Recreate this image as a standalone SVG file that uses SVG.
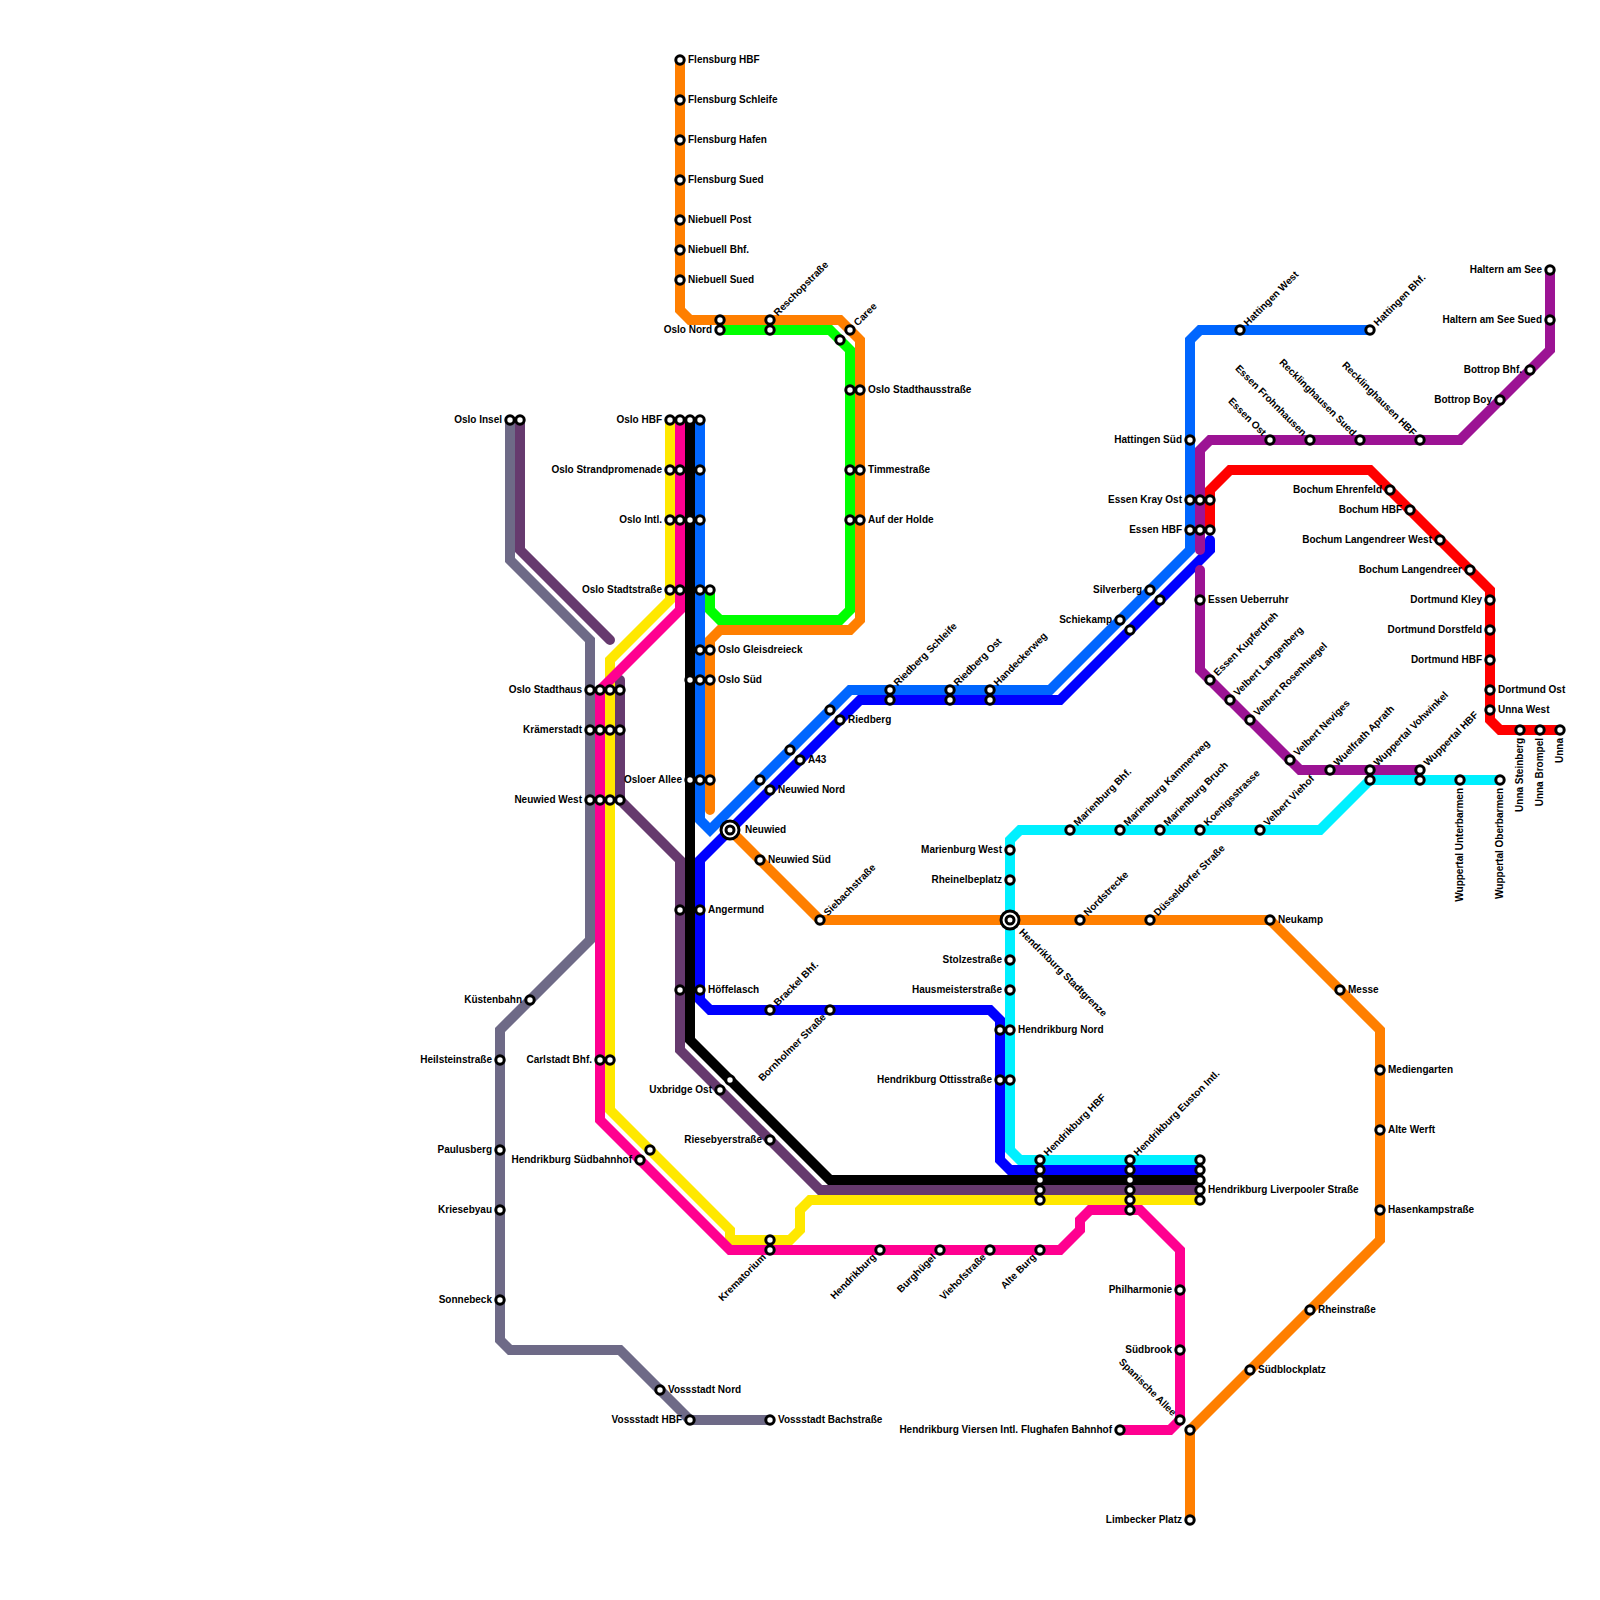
<svg xmlns="http://www.w3.org/2000/svg" width="1600" height="1600" viewBox="0 0 1600 1600">
<style>
text{font:bold 10px "Liberation Sans",Arial,sans-serif;fill:#000}
.e{text-anchor:end}
.s{fill:#fff;stroke:#000;stroke-width:3}
.b{fill:#fff;stroke:#000;stroke-width:3}
polyline{fill:none;stroke-width:10;stroke-linecap:round;stroke-linejoin:miter}
</style>
<rect width="1600" height="1600" fill="#fff"/>
<g id="connectors">
<polyline stroke="#ff7f00" points="680,60 680,310 690,320 840,320 860,340 860,620 850,630 720,630 710,640 710,810"/>
<polyline stroke="#00ff00" points="710,590 710,610 720,620 840,620 850,610 850,350 830,330 720,330"/>
<polyline stroke="#6e6a87" points="510,420 510,560 590,640 590,940 500,1030 500,1340 510,1350 620,1350 690,1420 770,1420"/>
<polyline stroke="#663a6e" points="520,420 520,550 610,640"/>
<polyline stroke="#663a6e" points="620,680 620,800 680,860 680,1050 820,1190 1200,1190"/>
<polyline stroke="#ff7f00" points="730,830 820,920 1270,920 1380,1030 1380,1240 1190,1430 1190,1520"/>
<polyline stroke="#00f0ff" points="1010,850 1010,840 1020,830 1320,830 1370,780 1500,780"/>
<polyline stroke="#00f0ff" points="1010,850 1010,1150 1020,1160 1200,1160"/>
<polyline stroke="#ffe800" points="670,420 670,600 610,660 610,1110 730,1230 730,1240 790,1240 800,1230 800,1210 810,1200 1200,1200"/>
<polyline stroke="#ff0090" points="680,420 680,610 600,690 600,1120 730,1250 1060,1250 1080,1230 1080,1220 1090,1210 1140,1210 1180,1250 1180,1420 1170,1430 1120,1430"/>
<polyline stroke="#000" points="690,420 690,1040 830,1180 1200,1180"/>
<polyline stroke="#0066ff" points="700,420 700,820 710,830 850,690 1050,690 1190,550 1190,340 1200,330 1370,330"/>
<polyline stroke="#0000ff" points="700,990 700,1000 710,1010 990,1010 1000,1020 1000,1160 1010,1170 1200,1170"/>
<polyline stroke="#0000ff" points="700,990 700,860 860,700 1060,700 1210,550 1210,540"/>
<polyline stroke="#ff0000" points="1210,530 1210,490 1230,470 1370,470 1490,590 1490,720 1500,730 1560,730"/>
<polyline stroke="#9c1394" points="1550,270 1550,350 1460,440 1210,440 1200,450 1200,550"/>
<polyline stroke="#9c1394" points="1200,570 1200,670 1300,770 1420,770"/>
</g>
<g id="nodes">
<g id="n-flensburg-hbf"><circle class="s" r="4.2" cx="680" cy="60"/><text x="688" y="63">Flensburg HBF</text></g>
<g id="n-flensburg-schleife"><circle class="s" r="4.2" cx="680" cy="100"/><text x="688" y="103">Flensburg Schleife</text></g>
<g id="n-flensburg-hafen"><circle class="s" r="4.2" cx="680" cy="140"/><text x="688" y="143">Flensburg Hafen</text></g>
<g id="n-flensburg-sued"><circle class="s" r="4.2" cx="680" cy="180"/><text x="688" y="183">Flensburg Sued</text></g>
<g id="n-niebuell-post"><circle class="s" r="4.2" cx="680" cy="220"/><text x="688" y="223">Niebuell Post</text></g>
<g id="n-niebuell-bhf"><circle class="s" r="4.2" cx="680" cy="250"/><text x="688" y="253">Niebuell Bhf.</text></g>
<g id="n-niebuell-sued"><circle class="s" r="4.2" cx="680" cy="280"/><text x="688" y="283">Niebuell Sued</text></g>
<g id="n-oslo-nord"><circle class="s" r="4.2" cx="720" cy="320"/><circle class="s" r="4.2" cx="720" cy="330"/><text class="e" x="712" y="333">Oslo Nord</text></g>
<g id="n-reschopstrasse"><circle class="s" r="4.2" cx="770" cy="320"/><circle class="s" r="4.2" cx="770" cy="330"/><text transform="translate(770 320) rotate(-45)" x="8" y="3">Reschopstraße</text></g>
<g id="n-caree"><circle class="s" r="4.2" cx="840" cy="340"/><circle class="s" r="4.2" cx="850" cy="330"/><text transform="translate(850 330) rotate(-45)" x="8" y="3">Caree</text></g>
<g id="n-oslo-stadthausstrasse"><circle class="s" r="4.2" cx="850" cy="390"/><circle class="s" r="4.2" cx="860" cy="390"/><text x="868" y="393">Oslo Stadthausstraße</text></g>
<g id="n-timmestrasse"><circle class="s" r="4.2" cx="850" cy="470"/><circle class="s" r="4.2" cx="860" cy="470"/><text x="868" y="473">Timmestraße</text></g>
<g id="n-auf-der-holde"><circle class="s" r="4.2" cx="850" cy="520"/><circle class="s" r="4.2" cx="860" cy="520"/><text x="868" y="523">Auf der Holde</text></g>
<g id="n-oslo-insel"><circle class="s" r="4.2" cx="510" cy="420"/><circle class="s" r="4.2" cx="520" cy="420"/><text class="e" x="502" y="423">Oslo Insel</text></g>
<g id="n-oslo-hbf"><circle class="s" r="4.2" cx="670" cy="420"/><circle class="s" r="4.2" cx="680" cy="420"/><circle class="s" r="4.2" cx="690" cy="420"/><circle class="s" r="4.2" cx="700" cy="420"/><text class="e" x="662" y="423">Oslo HBF</text></g>
<g id="n-oslo-strandpromenade"><circle class="s" r="4.2" cx="670" cy="470"/><circle class="s" r="4.2" cx="680" cy="470"/><circle class="s" r="4.2" cx="700" cy="470"/><text class="e" x="662" y="473">Oslo Strandpromenade</text></g>
<g id="n-oslo-intl"><circle class="s" r="4.2" cx="670" cy="520"/><circle class="s" r="4.2" cx="680" cy="520"/><circle class="s" r="4.2" cx="690" cy="520"/><circle class="s" r="4.2" cx="700" cy="520"/><text class="e" x="662" y="523">Oslo Intl.</text></g>
<g id="n-oslo-stadtstrasse"><circle class="s" r="4.2" cx="670" cy="590"/><circle class="s" r="4.2" cx="680" cy="590"/><circle class="s" r="4.2" cx="700" cy="590"/><circle class="s" r="4.2" cx="710" cy="590"/><text class="e" x="662" y="593">Oslo Stadtstraße</text></g>
<g id="n-oslo-gleisdreieck"><circle class="s" r="4.2" cx="700" cy="650"/><circle class="s" r="4.2" cx="710" cy="650"/><text x="718" y="653">Oslo Gleisdreieck</text></g>
<g id="n-oslo-sued"><circle class="s" r="4.2" cx="690" cy="680"/><circle class="s" r="4.2" cx="700" cy="680"/><circle class="s" r="4.2" cx="710" cy="680"/><text x="718" y="683">Oslo Süd</text></g>
<g id="n-osloer-allee"><circle class="s" r="4.2" cx="690" cy="780"/><circle class="s" r="4.2" cx="700" cy="780"/><circle class="s" r="4.2" cx="710" cy="780"/><text class="e" x="682" y="783">Osloer Allee</text></g>
<g id="n-oslo-stadthaus"><circle class="s" r="4.2" cx="590" cy="690"/><circle class="s" r="4.2" cx="600" cy="690"/><circle class="s" r="4.2" cx="610" cy="690"/><circle class="s" r="4.2" cx="620" cy="690"/><text class="e" x="582" y="693">Oslo Stadthaus</text></g>
<g id="n-kraemerstadt"><circle class="s" r="4.2" cx="590" cy="730"/><circle class="s" r="4.2" cx="600" cy="730"/><circle class="s" r="4.2" cx="610" cy="730"/><circle class="s" r="4.2" cx="620" cy="730"/><text class="e" x="582" y="733">Krämerstadt</text></g>
<g id="n-neuwied-west"><circle class="s" r="4.2" cx="590" cy="800"/><circle class="s" r="4.2" cx="600" cy="800"/><circle class="s" r="4.2" cx="610" cy="800"/><circle class="s" r="4.2" cx="620" cy="800"/><text class="e" x="582" y="803">Neuwied West</text></g>
<g id="n-neuwied"><circle class="b" r="9" cx="730" cy="830"/><circle class="b" r="4" cx="730" cy="830"/><text x="745" y="833">Neuwied</text></g>
<g id="n-neuwied-nord"><circle class="s" r="4.2" cx="760" cy="780"/><circle class="s" r="4.2" cx="770" cy="790"/><text x="778" y="793">Neuwied Nord</text></g>
<g id="n-a43"><circle class="s" r="4.2" cx="790" cy="750"/><circle class="s" r="4.2" cx="800" cy="760"/><text x="808" y="763">A43</text></g>
<g id="n-riedberg"><circle class="s" r="4.2" cx="830" cy="710"/><circle class="s" r="4.2" cx="840" cy="720"/><text x="848" y="723">Riedberg</text></g>
<g id="n-neuwied-sued"><circle class="s" r="4.2" cx="760" cy="860"/><text x="768" y="863">Neuwied Süd</text></g>
<g id="n-siebachstrasse"><circle class="s" r="4.2" cx="820" cy="920"/><text transform="translate(820 920) rotate(-45)" x="8" y="3">Siebachstraße</text></g>
<g id="n-riedberg-schleife"><circle class="s" r="4.2" cx="890" cy="690"/><circle class="s" r="4.2" cx="890" cy="700"/><text transform="translate(890 690) rotate(-45)" x="8" y="3">Riedberg Schleife</text></g>
<g id="n-riedberg-ost"><circle class="s" r="4.2" cx="950" cy="690"/><circle class="s" r="4.2" cx="950" cy="700"/><text transform="translate(950 690) rotate(-45)" x="8" y="3">Riedberg Ost</text></g>
<g id="n-handeckerweg"><circle class="s" r="4.2" cx="990" cy="690"/><circle class="s" r="4.2" cx="990" cy="700"/><text transform="translate(990 690) rotate(-45)" x="8" y="3">Handeckerweg</text></g>
<g id="n-angermund"><circle class="s" r="4.2" cx="680" cy="910"/><circle class="s" r="4.2" cx="700" cy="910"/><text x="708" y="913">Angermund</text></g>
<g id="n-hoeffelasch"><circle class="s" r="4.2" cx="680" cy="990"/><circle class="s" r="4.2" cx="700" cy="990"/><text x="708" y="993">Höffelasch</text></g>
<g id="n-brackel-bhf"><circle class="s" r="4.2" cx="770" cy="1010"/><text transform="translate(770 1010) rotate(-45)" x="8" y="3">Brackel Bhf.</text></g>
<g id="n-bornholmer-strasse"><circle class="s" r="4.2" cx="830" cy="1010"/><text class="e" transform="translate(830 1010) rotate(-45)" x="-8" y="3">Bornholmer Straße</text></g>
<g id="n-carlstadt-bhf"><circle class="s" r="4.2" cx="600" cy="1060"/><circle class="s" r="4.2" cx="610" cy="1060"/><text class="e" x="592" y="1063">Carlstadt Bhf.</text></g>
<g id="n-kuestenbahn"><circle class="s" r="4.2" cx="530" cy="1000"/><text class="e" x="522" y="1003">Küstenbahn</text></g>
<g id="n-heilsteinstrasse"><circle class="s" r="4.2" cx="500" cy="1060"/><text class="e" x="492" y="1063">Heilsteinstraße</text></g>
<g id="n-paulusberg"><circle class="s" r="4.2" cx="500" cy="1150"/><text class="e" x="492" y="1153">Paulusberg</text></g>
<g id="n-kriesebyau"><circle class="s" r="4.2" cx="500" cy="1210"/><text class="e" x="492" y="1213">Kriesebyau</text></g>
<g id="n-sonnebeck"><circle class="s" r="4.2" cx="500" cy="1300"/><text class="e" x="492" y="1303">Sonnebeck</text></g>
<g id="n-vossstadt-nord"><circle class="s" r="4.2" cx="660" cy="1390"/><text x="668" y="1393">Vossstadt Nord</text></g>
<g id="n-vossstadt-hbf"><circle class="s" r="4.2" cx="690" cy="1420"/><text class="e" x="682" y="1423">Vossstadt HBF</text></g>
<g id="n-vossstadt-bachstrasse"><circle class="s" r="4.2" cx="770" cy="1420"/><text x="778" y="1423">Vossstadt Bachstraße</text></g>
<g id="n-uxbridge-ost"><circle class="s" r="4.2" cx="730" cy="1080"/><circle class="s" r="4.2" cx="720" cy="1090"/><text class="e" x="712" y="1093">Uxbridge Ost</text></g>
<g id="n-riesebyerstrasse"><circle class="s" r="4.2" cx="770" cy="1140"/><text class="e" x="762" y="1143">Riesebyerstraße</text></g>
<g id="n-suedbahnhof"><circle class="s" r="4.2" cx="650" cy="1150"/><circle class="s" r="4.2" cx="640" cy="1160"/><text class="e" x="632" y="1163">Hendrikburg Südbahnhof</text></g>
<g id="n-krematorium"><circle class="s" r="4.2" cx="770" cy="1240"/><circle class="s" r="4.2" cx="770" cy="1250"/><text class="e" transform="translate(770 1250) rotate(-45)" x="-8" y="3">Krematorium</text></g>
<g id="n-hendrikburg"><circle class="s" r="4.2" cx="880" cy="1250"/><text class="e" transform="translate(880 1250) rotate(-45)" x="-8" y="3">Hendrikburg</text></g>
<g id="n-burghuegel"><circle class="s" r="4.2" cx="940" cy="1250"/><text class="e" transform="translate(940 1250) rotate(-45)" x="-8" y="3">Burghügel</text></g>
<g id="n-viehofstrasse"><circle class="s" r="4.2" cx="990" cy="1250"/><text class="e" transform="translate(990 1250) rotate(-45)" x="-8" y="3">Viehofstraße</text></g>
<g id="n-alte-burg"><circle class="s" r="4.2" cx="1040" cy="1250"/><text class="e" transform="translate(1040 1250) rotate(-45)" x="-8" y="3">Alte Burg</text></g>
<g id="n-hendrikburg-hbf"><circle class="s" r="4.2" cx="1040" cy="1200"/><circle class="s" r="4.2" cx="1040" cy="1190"/><circle class="s" r="4.2" cx="1040" cy="1180"/><circle class="s" r="4.2" cx="1040" cy="1170"/><circle class="s" r="4.2" cx="1040" cy="1160"/><text transform="translate(1040 1160) rotate(-45)" x="8" y="3">Hendrikburg HBF</text></g>
<g id="n-euston"><circle class="s" r="4.2" cx="1130" cy="1210"/><circle class="s" r="4.2" cx="1130" cy="1200"/><circle class="s" r="4.2" cx="1130" cy="1190"/><circle class="s" r="4.2" cx="1130" cy="1180"/><circle class="s" r="4.2" cx="1130" cy="1170"/><circle class="s" r="4.2" cx="1130" cy="1160"/><text transform="translate(1130 1160) rotate(-45)" x="8" y="3">Hendrikburg Euston Intl.</text></g>
<g id="n-liverpooler"><circle class="s" r="4.2" cx="1200" cy="1200"/><circle class="s" r="4.2" cx="1200" cy="1190"/><circle class="s" r="4.2" cx="1200" cy="1180"/><circle class="s" r="4.2" cx="1200" cy="1170"/><circle class="s" r="4.2" cx="1200" cy="1160"/><text x="1208" y="1193">Hendrikburg Liverpooler Straße</text></g>
<g id="n-philharmonie"><circle class="s" r="4.2" cx="1180" cy="1290"/><text class="e" x="1172" y="1293">Philharmonie</text></g>
<g id="n-suedbrook"><circle class="s" r="4.2" cx="1180" cy="1350"/><text class="e" x="1172" y="1353">Südbrook</text></g>
<g id="n-spanische-allee"><circle class="s" r="4.2" cx="1180" cy="1420"/><text class="e" transform="translate(1180 1420) rotate(45)" x="-8" y="3">Spanische Allee</text></g>
<g id="n-flughafen"><circle class="s" r="4.2" cx="1120" cy="1430"/><text class="e" x="1112" y="1433">Hendrikburg Viersen Intl. Flughafen Bahnhof</text></g>
<g id="n-orange-end"><circle class="s" r="4.2" cx="1190" cy="1430"/></g>
<g id="n-limbecker-platz"><circle class="s" r="4.2" cx="1190" cy="1520"/><text class="e" x="1182" y="1523">Limbecker Platz</text></g>
<g id="n-suedblockplatz"><circle class="s" r="4.2" cx="1250" cy="1370"/><text x="1258" y="1373">Südblockplatz</text></g>
<g id="n-rheinstrasse"><circle class="s" r="4.2" cx="1310" cy="1310"/><text x="1318" y="1313">Rheinstraße</text></g>
<g id="n-hasenkampstrasse"><circle class="s" r="4.2" cx="1380" cy="1210"/><text x="1388" y="1213">Hasenkampstraße</text></g>
<g id="n-alte-werft"><circle class="s" r="4.2" cx="1380" cy="1130"/><text x="1388" y="1133">Alte Werft</text></g>
<g id="n-mediengarten"><circle class="s" r="4.2" cx="1380" cy="1070"/><text x="1388" y="1073">Mediengarten</text></g>
<g id="n-messe"><circle class="s" r="4.2" cx="1340" cy="990"/><text x="1348" y="993">Messe</text></g>
<g id="n-neukamp"><circle class="s" r="4.2" cx="1270" cy="920"/><text x="1278" y="923">Neukamp</text></g>
<g id="n-duesseldorfer"><circle class="s" r="4.2" cx="1150" cy="920"/><text transform="translate(1150 920) rotate(-45)" x="8" y="3">Düsseldorfer Straße</text></g>
<g id="n-nordstrecke"><circle class="s" r="4.2" cx="1080" cy="920"/><text transform="translate(1080 920) rotate(-45)" x="8" y="3">Nordstrecke</text></g>
<g id="n-marienburg-west"><circle class="s" r="4.2" cx="1010" cy="850"/><text class="e" x="1002" y="853">Marienburg West</text></g>
<g id="n-rheinelbeplatz"><circle class="s" r="4.2" cx="1010" cy="880"/><text class="e" x="1002" y="883">Rheinelbeplatz</text></g>
<g id="n-stadtgrenze"><circle class="b" r="9" cx="1010" cy="920"/><circle class="b" r="4" cx="1010" cy="920"/><text transform="translate(1010 920) rotate(45)" x="15" y="3">Hendrikburg Stadtgrenze</text></g>
<g id="n-stolzestrasse"><circle class="s" r="4.2" cx="1010" cy="960"/><text class="e" x="1002" y="963">Stolzestraße</text></g>
<g id="n-hausmeisterstrasse"><circle class="s" r="4.2" cx="1010" cy="990"/><text class="e" x="1002" y="993">Hausmeisterstraße</text></g>
<g id="n-hendrikburg-nord"><circle class="s" r="4.2" cx="1000" cy="1030"/><circle class="s" r="4.2" cx="1010" cy="1030"/><text x="1018" y="1033">Hendrikburg Nord</text></g>
<g id="n-ottisstrasse"><circle class="s" r="4.2" cx="1000" cy="1080"/><circle class="s" r="4.2" cx="1010" cy="1080"/><text class="e" x="992" y="1083">Hendrikburg Ottisstraße</text></g>
<g id="n-marienburg-bhf"><circle class="s" r="4.2" cx="1070" cy="830"/><text transform="translate(1070 830) rotate(-45)" x="8" y="3">Marienburg Bhf.</text></g>
<g id="n-marienburg-kammerweg"><circle class="s" r="4.2" cx="1120" cy="830"/><text transform="translate(1120 830) rotate(-45)" x="8" y="3">Marienburg Kammerweg</text></g>
<g id="n-marienburg-bruch"><circle class="s" r="4.2" cx="1160" cy="830"/><text transform="translate(1160 830) rotate(-45)" x="8" y="3">Marienburg Bruch</text></g>
<g id="n-koenigsstrasse"><circle class="s" r="4.2" cx="1200" cy="830"/><text transform="translate(1200 830) rotate(-45)" x="8" y="3">Koenigsstrasse</text></g>
<g id="n-velbert-viehof"><circle class="s" r="4.2" cx="1260" cy="830"/><text transform="translate(1260 830) rotate(-45)" x="8" y="3">Velbert Viehof</text></g>
<g id="n-silverberg"><circle class="s" r="4.2" cx="1150" cy="590"/><circle class="s" r="4.2" cx="1160" cy="600"/><text class="e" x="1142" y="593">Silverberg</text></g>
<g id="n-schiekamp"><circle class="s" r="4.2" cx="1120" cy="620"/><circle class="s" r="4.2" cx="1130" cy="630"/><text class="e" x="1112" y="623">Schiekamp</text></g>
<g id="n-hattingen-sued"><circle class="s" r="4.2" cx="1190" cy="440"/><text class="e" x="1182" y="443">Hattingen Süd</text></g>
<g id="n-essen-kray-ost"><circle class="s" r="4.2" cx="1190" cy="500"/><circle class="s" r="4.2" cx="1200" cy="500"/><circle class="s" r="4.2" cx="1210" cy="500"/><text class="e" x="1182" y="503">Essen Kray Ost</text></g>
<g id="n-essen-hbf"><circle class="s" r="4.2" cx="1190" cy="530"/><circle class="s" r="4.2" cx="1200" cy="530"/><circle class="s" r="4.2" cx="1210" cy="530"/><text class="e" x="1182" y="533">Essen HBF</text></g>
<g id="n-essen-ueberruhr"><circle class="s" r="4.2" cx="1200" cy="600"/><text x="1208" y="603">Essen Ueberruhr</text></g>
<g id="n-essen-kupferdreh"><circle class="s" r="4.2" cx="1210" cy="680"/><text transform="translate(1210 680) rotate(-45)" x="8" y="3">Essen Kupferdreh</text></g>
<g id="n-velbert-langenberg"><circle class="s" r="4.2" cx="1230" cy="700"/><text transform="translate(1230 700) rotate(-45)" x="8" y="3">Velbert Langenberg</text></g>
<g id="n-velbert-rosenhuegel"><circle class="s" r="4.2" cx="1250" cy="720"/><text transform="translate(1250 720) rotate(-45)" x="8" y="3">Velbert Rosenhuegel</text></g>
<g id="n-velbert-neviges"><circle class="s" r="4.2" cx="1290" cy="760"/><text transform="translate(1290 760) rotate(-45)" x="8" y="3">Velbert Neviges</text></g>
<g id="n-wuelfrath-aprath"><circle class="s" r="4.2" cx="1330" cy="770"/><text transform="translate(1330 770) rotate(-45)" x="8" y="3">Wuelfrath Aprath</text></g>
<g id="n-wuppertal-vohwinkel"><circle class="s" r="4.2" cx="1370" cy="770"/><circle class="s" r="4.2" cx="1370" cy="780"/><text transform="translate(1370 770) rotate(-45)" x="8" y="3">Wuppertal Vohwinkel</text></g>
<g id="n-wuppertal-hbf"><circle class="s" r="4.2" cx="1420" cy="770"/><circle class="s" r="4.2" cx="1420" cy="780"/><text transform="translate(1420 770) rotate(-45)" x="8" y="3">Wuppertal HBF</text></g>
<g id="n-wuppertal-unterbarmen"><circle class="s" r="4.2" cx="1460" cy="780"/><text class="e" transform="translate(1460 780) rotate(-90)" x="-8" y="3">Wuppertal Unterbarmen</text></g>
<g id="n-wuppertal-oberbarmen"><circle class="s" r="4.2" cx="1500" cy="780"/><text class="e" transform="translate(1500 780) rotate(-90)" x="-8" y="3">Wuppertal Oberbarmen</text></g>
<g id="n-hattingen-west"><circle class="s" r="4.2" cx="1240" cy="330"/><text transform="translate(1240 330) rotate(-45)" x="8" y="3">Hattingen West</text></g>
<g id="n-hattingen-bhf"><circle class="s" r="4.2" cx="1370" cy="330"/><text transform="translate(1370 330) rotate(-45)" x="8" y="3">Hattingen Bhf.</text></g>
<g id="n-essen-ost"><circle class="s" r="4.2" cx="1270" cy="440"/><text class="e" transform="translate(1270 440) rotate(45)" x="-8" y="3">Essen Ost</text></g>
<g id="n-essen-frohnhausen"><circle class="s" r="4.2" cx="1310" cy="440"/><text class="e" transform="translate(1310 440) rotate(45)" x="-8" y="3">Essen Frohnhausen</text></g>
<g id="n-recklinghausen-sued"><circle class="s" r="4.2" cx="1360" cy="440"/><text class="e" transform="translate(1360 440) rotate(45)" x="-8" y="3">Recklinghausen Sued</text></g>
<g id="n-recklinghausen-hbf"><circle class="s" r="4.2" cx="1420" cy="440"/><text class="e" transform="translate(1420 440) rotate(45)" x="-8" y="3">Recklinghausen HBF</text></g>
<g id="n-bottrop-boy"><circle class="s" r="4.2" cx="1500" cy="400"/><text class="e" x="1492" y="403">Bottrop Boy</text></g>
<g id="n-bottrop-bhf"><circle class="s" r="4.2" cx="1530" cy="370"/><text class="e" x="1522" y="373">Bottrop Bhf.</text></g>
<g id="n-haltern-sued"><circle class="s" r="4.2" cx="1550" cy="320"/><text class="e" x="1542" y="323">Haltern am See Sued</text></g>
<g id="n-haltern"><circle class="s" r="4.2" cx="1550" cy="270"/><text class="e" x="1542" y="273">Haltern am See</text></g>
<g id="n-bochum-ehrenfeld"><circle class="s" r="4.2" cx="1390" cy="490"/><text class="e" x="1382" y="493">Bochum Ehrenfeld</text></g>
<g id="n-bochum-hbf"><circle class="s" r="4.2" cx="1410" cy="510"/><text class="e" x="1402" y="513">Bochum HBF</text></g>
<g id="n-bochum-langendreer-west"><circle class="s" r="4.2" cx="1440" cy="540"/><text class="e" x="1432" y="543">Bochum Langendreer West</text></g>
<g id="n-bochum-langendreer"><circle class="s" r="4.2" cx="1470" cy="570"/><text class="e" x="1462" y="573">Bochum Langendreer</text></g>
<g id="n-dortmund-kley"><circle class="s" r="4.2" cx="1490" cy="600"/><text class="e" x="1482" y="603">Dortmund Kley</text></g>
<g id="n-dortmund-dorstfeld"><circle class="s" r="4.2" cx="1490" cy="630"/><text class="e" x="1482" y="633">Dortmund Dorstfeld</text></g>
<g id="n-dortmund-hbf"><circle class="s" r="4.2" cx="1490" cy="660"/><text class="e" x="1482" y="663">Dortmund HBF</text></g>
<g id="n-dortmund-ost"><circle class="s" r="4.2" cx="1490" cy="690"/><text x="1498" y="693">Dortmund Ost</text></g>
<g id="n-unna-west"><circle class="s" r="4.2" cx="1490" cy="710"/><text x="1498" y="713">Unna West</text></g>
<g id="n-unna-steinberg"><circle class="s" r="4.2" cx="1520" cy="730"/><text class="e" transform="translate(1520 730) rotate(-90)" x="-8" y="3">Unna Steinberg</text></g>
<g id="n-unna-brompel"><circle class="s" r="4.2" cx="1540" cy="730"/><text class="e" transform="translate(1540 730) rotate(-90)" x="-8" y="3">Unna Brompel</text></g>
<g id="n-unna"><circle class="s" r="4.2" cx="1560" cy="730"/><text class="e" transform="translate(1560 730) rotate(-90)" x="-8" y="3">Unna</text></g>
</g>
</svg>
